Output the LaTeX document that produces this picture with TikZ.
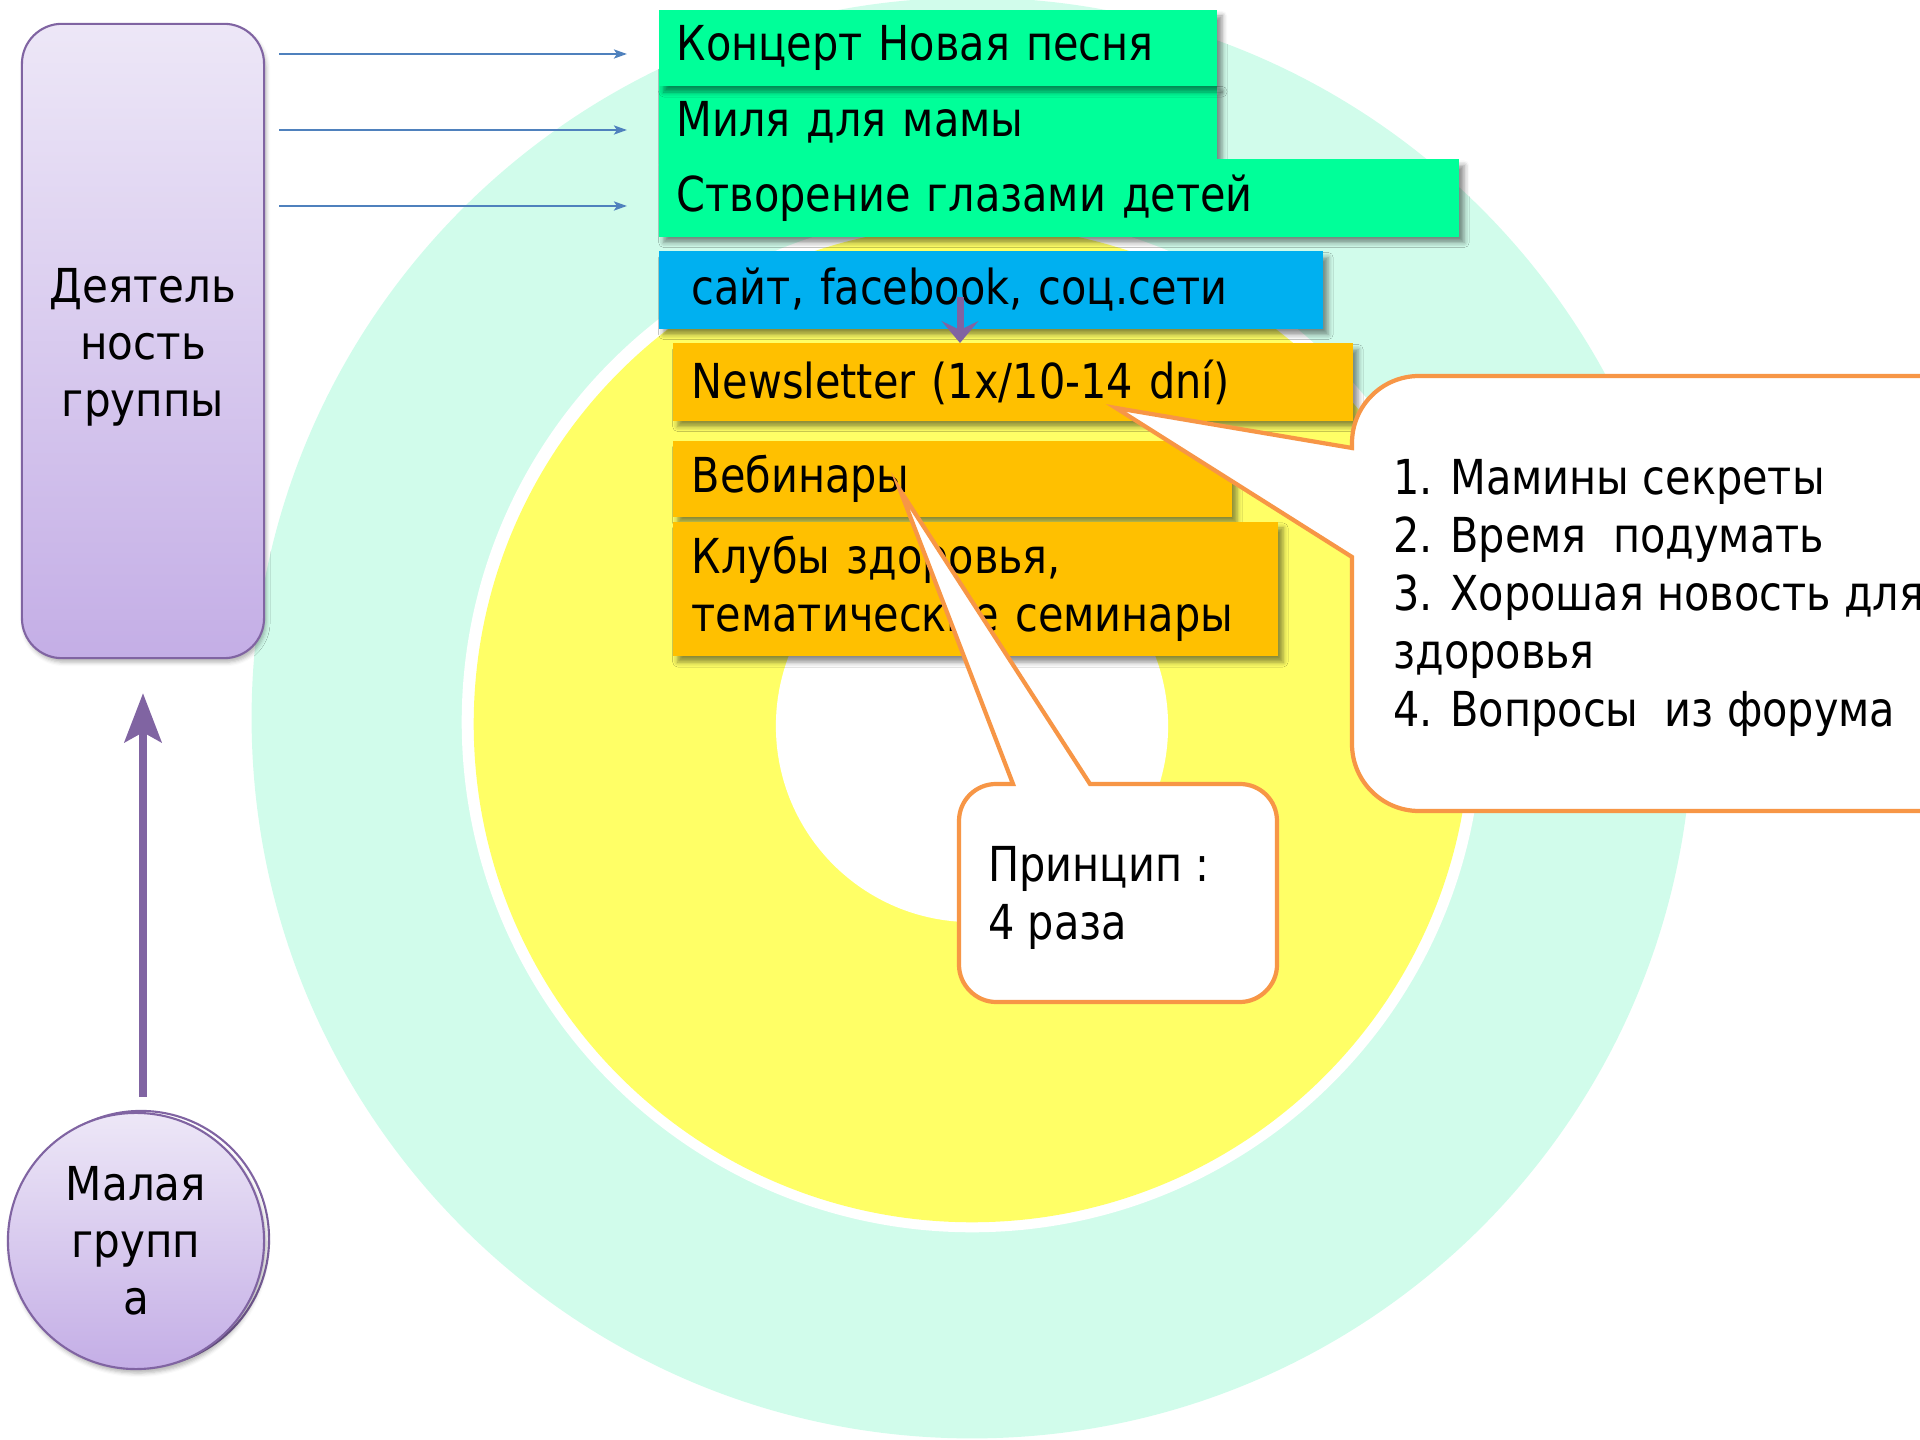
\documentclass[tikz,border=0pt]{standalone}
\usepackage{fontspec}
\setmainfont{DejaVu Sans}
\newfontfamily\tah[FakeStretch=0.86]{DejaVu Sans}
\newfontfamily\verd[FakeStretch=0.9]{DejaVu Sans}
\usetikzlibrary{arrows.meta,shadows.blur}
\definecolor{mint}{HTML}{D1FCEB}
\definecolor{yel}{HTML}{FFFF66}
\definecolor{grn}{HTML}{00FF99}
\definecolor{sky}{HTML}{00B0F0}
\definecolor{org}{HTML}{FFC000}
\definecolor{oline}{HTML}{F79646}
\definecolor{purp}{HTML}{8064A2}
\definecolor{lilatop}{HTML}{EDE7F7}
\definecolor{lilabot}{HTML}{C4AEE6}
\definecolor{barrow}{HTML}{4F81BD}
\tikzset{
  boxtext/.style={font=\tah\fontsize{13.7pt}{16.5pt}\selectfont, text=black},
  colbox/.style={boxtext, inner ysep=0pt, align=left, anchor=west,
    blur shadow={shadow xshift=0.05cm, shadow yshift=-0.06cm, shadow blur radius=0.05cm, shadow opacity=45}},
  lilatext/.style={font=\verd\fontsize{13.3pt}{16.2pt}\selectfont, align=center, text=black},
  lila/.style={lilatext, draw=purp, line width=0.6pt, top color=lilatop, bottom color=lilabot},
  thinarrow/.style={draw=barrow, line width=0.7pt, -{Stealth[length=0.13cm, width=0.09cm, inset=0.03cm]}},
  fatarrow/.style={draw=purp, line width=0.07cm},
  callout/.style={fill=white, draw=oline, line width=1.2pt, line join=miter},
}
\begin{document}
\begin{tikzpicture}[x=0.01cm,y=-0.01cm]
\useasboundingbox (0,0) rectangle (1920,1440);
% background rings
\fill[mint] (972,718) circle (7.20cm);
\fill[white] (972,722) circle (5.10cm);
\fill[yel] (972,724) circle (4.98cm);
\fill[white] (972,726) circle (1.96cm);

% left side
\node[lila, rounded corners=0.4cm, minimum width=2.42cm, minimum height=6.34cm,
  blur shadow={shadow xshift=0.02cm, shadow yshift=-0.04cm, shadow blur radius=0.04cm, shadow opacity=30}]
  (act) at (143,341) {};
\node[lilatext] (acttxt) at (143,347) {Деятель\\ность\\группы};
\node[circle, draw=purp, line width=0.6pt, minimum size=2.56cm] (mgb) at (141,1239) {};
\node[lila, circle, minimum size=2.56cm, inner sep=0pt,
  blur shadow={shadow xshift=0.02cm, shadow yshift=-0.04cm, shadow blur radius=0.04cm, shadow opacity=30}]
  (mg) at (136,1241) {Малая\\групп\\а};
\draw[fatarrow, -{Stealth[length=0.49cm, width=0.37cm, inset=0.1cm]}]
  ([yshift=0.15cm]mg.north -| act.south) -- ([yshift=-0.34cm]act.south);

% green boxes
\node[colbox, fill=grn, minimum height=0.73cm, minimum width=5.58cm, inner xsep=0.18cm, text width=5.22cm] (g2) at (658,122) {Миля для мамы};
\node[colbox, fill=grn, minimum height=0.77cm, minimum width=8.00cm, inner xsep=0.18cm, text width=7.64cm] (g3) at (658,198) {Створение глазами детей};
\node[colbox, fill=grn, minimum height=0.76cm, minimum width=5.58cm, inner xsep=0.18cm, text width=5.22cm] (g1) at (658,48) {Концерт Новая песня};

% arrows to green boxes
\coordinate (s1) at (279,54); \coordinate (e1) at (627,54);
\coordinate (s2) at (279,130); \coordinate (e2) at (627,130);
\coordinate (s3) at (279,206); \coordinate (e3) at (627,206);
\draw[thinarrow] (s1) -- (e1);
\draw[thinarrow] (s2) -- (e2);
\draw[thinarrow] (s3) -- (e3);

% blue box
\node[colbox, fill=sky, minimum height=0.77cm, minimum width=6.64cm, inner xsep=0.33cm, text width=5.98cm] (web) at (658,290) {сайт, facebook, соц.сети};

% orange boxes
\node[colbox, fill=org, minimum height=0.77cm, minimum width=6.80cm, inner xsep=0.19cm, text width=6.42cm] (news) at (672,382) {Newsletter (1x/10-14 dní)};
\node[colbox, fill=org, minimum height=0.76cm, minimum width=5.59cm, inner xsep=0.19cm, text width=5.21cm] (webi) at (672,479) {Вебинары};
\node[colbox, fill=org, minimum height=1.34cm, minimum width=6.05cm, inner xsep=0.19cm, text width=5.67cm] (club) at (672,589) {Клубы здоровья,\\тематические семинары};

% small arrow
\coordinate (da) at (960,297);
\coordinate (db) at (960,343);
\draw[fatarrow, -{Stealth[length=0.22cm, width=0.37cm, inset=0.09cm]}] (da) -- (db);

% callout 1
\draw[callout] (1116,408) -- (1352,557) -- (1352,744)
  .. controls (1352,781) and (1382,811) .. (1419,811) -- (1960,811) -- (1960,376) -- (1419,376)
  .. controls (1382,376) and (1352,406) .. (1352,443) -- (1352,448) -- cycle;
\node[boxtext, align=left, anchor=west] (list) at (1381,598)
  {1. Мамины секреты\\2. Время\ \ подумать\\3. Хорошая новость для\\здоровья\\4. Вопросы\ \ из форума};

% callout 2
\draw[callout] (900,490) -- (1090,784) -- (1240,784)
  .. controls (1260,784) and (1277,800) .. (1277,821) -- (1277,965)
  .. controls (1277,985) and (1260,1002) .. (1240,1002) -- (996,1002)
  .. controls (976,1002) and (959,985) .. (959,965) -- (959,821)
  .. controls (959,800) and (976,784) .. (996,784) -- (1013,784) -- cycle;
\node[boxtext, align=left, anchor=west] (princ) at (976,898) {Принцип :\\4 раза};
\end{tikzpicture}
\end{document}
